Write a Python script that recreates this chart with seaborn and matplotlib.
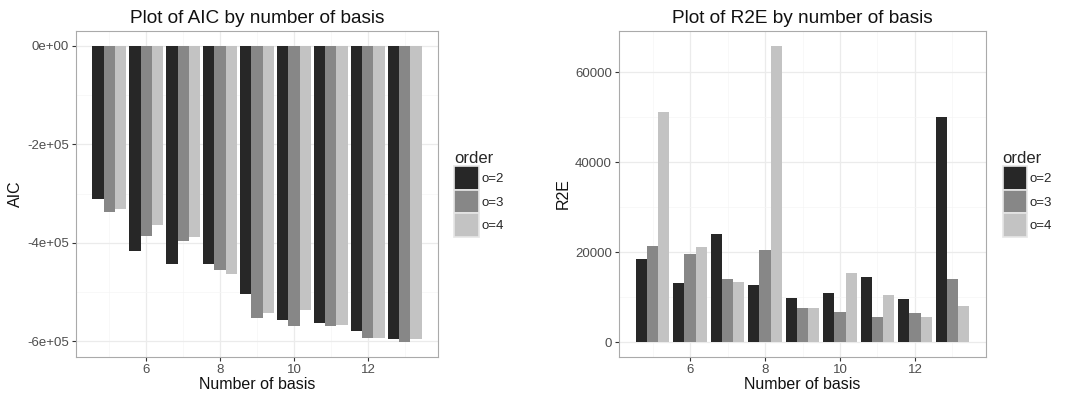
import numpy as np
import pandas as pd
import matplotlib
matplotlib.use("Agg")
import matplotlib.pyplot as plt
from matplotlib.patches import Patch
from matplotlib.ticker import MultipleLocator
import seaborn as sns

basis = [5, 6, 7, 8, 9, 10, 11, 12, 13]
orders = ["o=2", "o=3", "o=4"]
aic_o2 = [-311500, -416000, -443200, -443200, -502700, -555400, -562800, -579700, -595900]
aic_o3 = [-336500, -385800, -396600, -454000, -552700, -568900, -568900, -593200, -601400]
aic_o4 = [-331000, -364200, -388500, -462200, -541200, -535800, -566200, -593200, -595900]
r2e_o2 = [18470, 13080, 24090, 12780, 9830, 11010, 14550, 9530, 50020]
r2e_o3 = [21350, 19650, 13960, 20540, 7680, 6800, 5610, 6580, 13960]
r2e_o4 = [51270, 21130, 13370, 65900, 7680, 15440, 10420, 5610, 8050]
aic_ticks = [0, -200000, -400000, -600000]
aic_ticklabels = ["0e+00", "-2e+05", "-4e+05", "-6e+05"]
r2e_ticks = [0, 20000, 40000, 60000]
r2e_ticklabels = ["0", "20000", "40000", "60000"]
x_ticks = [6, 8, 10, 12]

colors = ["#272727", "#878787", "#c3c3c3"]

def long_df(a, b, c, name):
    rows = []
    for vals, o in zip([a, b, c], orders):
        for x, v in zip(basis, vals):
            rows.append({"basis": x, "order": o, name: v})
    return pd.DataFrame(rows)

aic_df = long_df(aic_o2, aic_o3, aic_o4, "AIC")
r2e_df = long_df(r2e_o2, r2e_o3, r2e_o4, "R2E")

sns.set_theme(style="white")
plt.rcParams["font.family"] = ["Liberation Sans", "DejaVu Sans"]

fig = plt.figure(figsize=(10.66, 3.98), dpi=100)
W, H = 1066, 398
ax1 = fig.add_axes([76 / W, (H - 357) / H, 362 / W, 326 / H])
ax2 = fig.add_axes([619 / W, (H - 357) / H, 367 / W, 326 / H])

def style(ax, df, col, ticks, ticklabels, title):
    sns.barplot(data=df, x="basis", y=col, hue="order", hue_order=orders,
                palette=colors, native_scale=True, width=0.9, dodge=True,
                errorbar=None, saturation=1, linewidth=0, ax=ax, zorder=3)
    vals = df[col].values
    lo, hi = min(vals.min(), 0), max(vals.max(), 0)
    pad = (hi - lo) * 0.05
    ax.set_ylim(lo - pad, hi + pad)
    xlo, xhi = 4.55, 13.45
    xp = (xhi - xlo) * 0.05
    ax.set_xlim(xlo - xp, xhi + xp)
    ax.set_xticks(x_ticks)
    ax.set_xticklabels([str(t) for t in x_ticks])
    ax.set_yticks(ticks)
    ax.set_yticklabels(ticklabels)
    ax.xaxis.set_minor_locator(MultipleLocator(1))
    ax.yaxis.set_minor_locator(MultipleLocator(abs(ticks[1] - ticks[0]) / 2))
    ax.grid(True, which="major", color="#ebebeb", linewidth=0.9, zorder=0)
    ax.grid(True, which="minor", color="#f5f5f5", linewidth=0.5, zorder=0)
    ax.set_axisbelow(True)
    for s in ax.spines.values():
        s.set_visible(True)
        s.set_color("#aaaaaa")
        s.set_linewidth(0.8)
    ax.tick_params(which="major", direction="out", length=3, width=0.8,
                   color="#333333", labelsize=9.5, labelcolor="#4d4d4d",
                   bottom=True, left=True, pad=2)
    ax.tick_params(which="minor", length=0)
    ax.set_xlabel("Number of basis", fontsize=11.5, labelpad=1, color="#111111")
    ax.set_ylabel(col, fontsize=11.5, labelpad=3, color="#111111")
    ax.set_title(title, fontsize=13.7, pad=6, color="#111111")
    leg = ax.get_legend()
    if leg is not None:
        leg.remove()
    handles = [Patch(facecolor=c, edgecolor="#e6e6e6", linewidth=1.2) for c in colors]
    lg = ax.legend(handles, orders, title="order", loc="center left",
                   bbox_to_anchor=(1.045, 0.5), frameon=False, fontsize=9.5,
                   title_fontsize=12, handlelength=1.85, handleheight=2.4,
                   labelspacing=0.0, handletextpad=0.2, borderaxespad=0,
                   borderpad=0)
    lg._legend_box.align = "left"

style(ax1, aic_df, "AIC", aic_ticks, aic_ticklabels, "Plot of AIC by number of basis")
style(ax2, r2e_df, "R2E", r2e_ticks, r2e_ticklabels, "Plot of R2E by number of basis")

fig.savefig("out.png", dpi=100)
